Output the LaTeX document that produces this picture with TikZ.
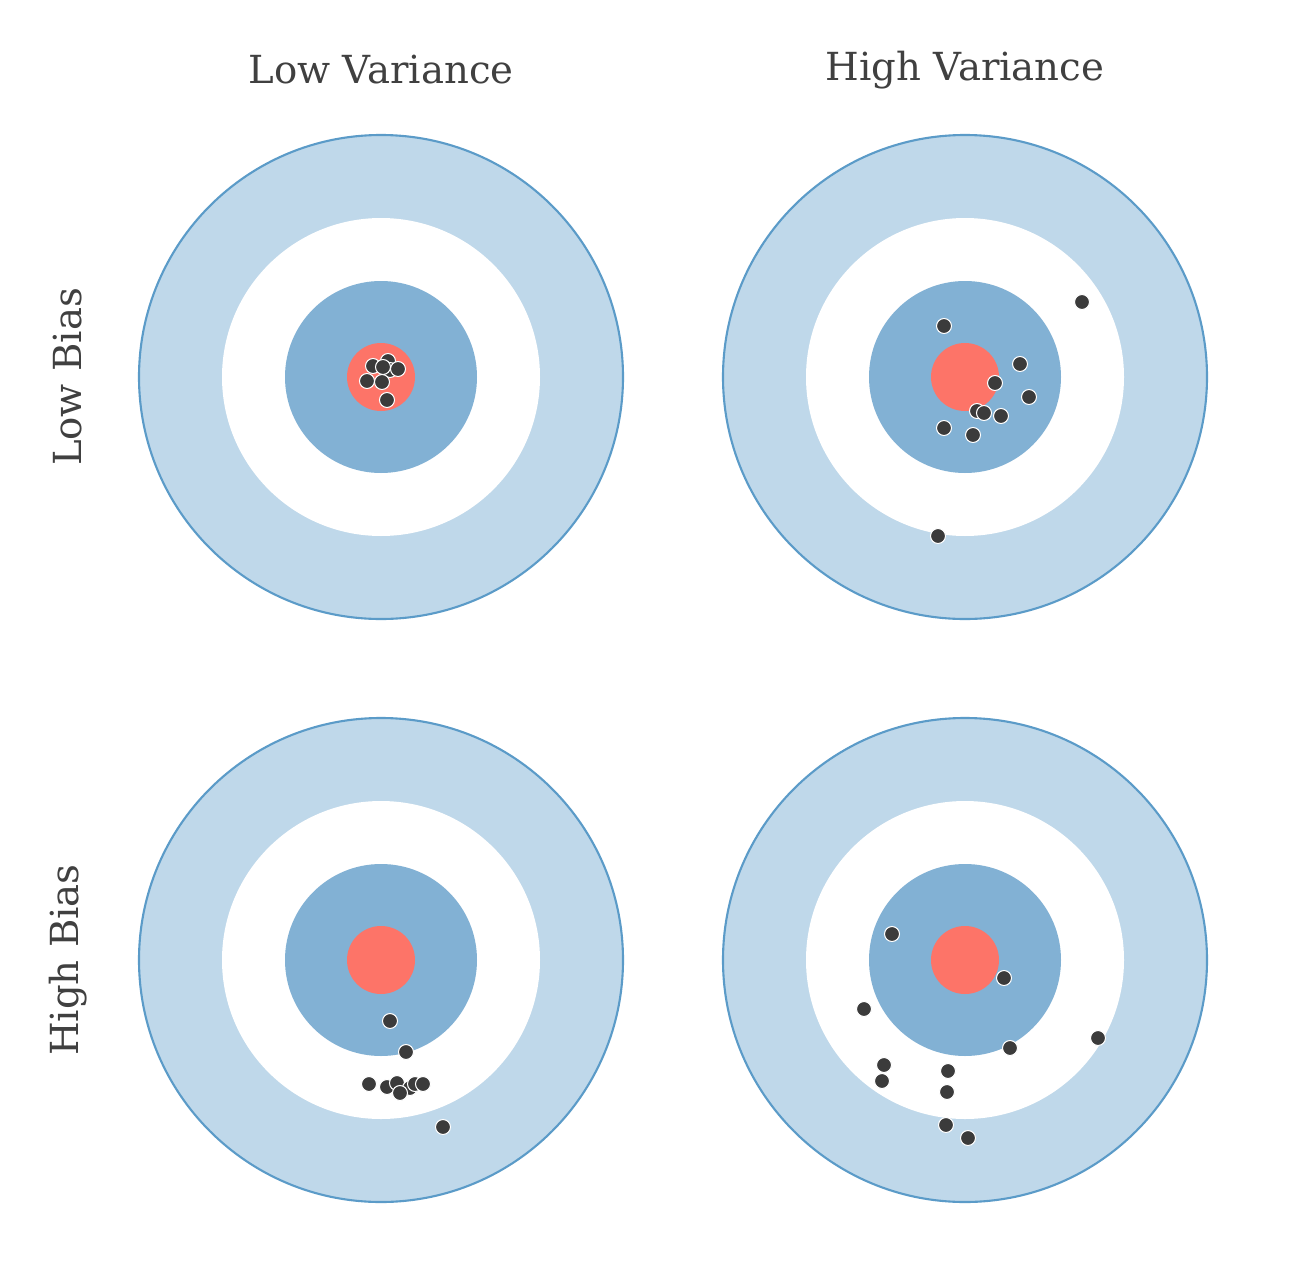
\documentclass[tikz,border=0pt]{standalone}
\usepackage{fontspec}
\setmainfont{DejaVu Serif}
\definecolor{outerblue}{HTML}{BFD8EA}
\definecolor{edgeblue}{HTML}{5B9BC8}
\definecolor{midblue}{HTML}{82B1D4}
\definecolor{bullred}{HTML}{FD7468}
\definecolor{shotgray}{HTML}{3B3B3B}
\definecolor{labelgray}{HTML}{404040}
\tikzset{
  shot/.style={circle, fill=shotgray, draw=white, line width=0.6pt, inner sep=0pt, minimum size=0.3cm},
  heading/.style={text=labelgray, font=\fontsize{22}{26}\selectfont}
}
\newcommand{\target}[2]{%
  \fill[outerblue, draw=edgeblue, line width=1.2pt] (#1,#2) circle (242);
  \fill[white] (#1,#2) circle (159);
  \fill[midblue] (#1,#2) circle (96);
  \fill[bullred] (#1,#2) circle (34);
}
\begin{document}
\begin{tikzpicture}[x=0.02cm, y=-0.02cm]
\useasboundingbox (0,0) rectangle (1292,1288);
% Zielscheiben
\target{381}{377}
\target{965}{377}
\target{381}{960}
\target{965}{960}
% Beschriftung
\node[heading] (lowvar) at (381,70) {Low Variance};
\node[heading] (highvar) at (965,70) {High Variance};
\node[heading, rotate=90] (lowbias) at (68,377) {Low Bias};
\node[heading, rotate=90] (highbias) at (68,960) {High Bias};
% Treffer
\foreach \x/\y in {388/361, 390/370, 398/369, 373/366, 383/367, 367/381, 382/382, 387/400,
  1082/302, 944/326, 1020/364, 995/383, 1029/397, 977/411, 984/413, 1001/416, 944/428, 973/435, 938/536,
  390/1021, 406/1052, 369/1084, 387/1087, 397/1083, 410/1088, 415/1084, 423/1084, 400/1093, 443/1127,
  892/934, 1004/978, 864/1009, 1010/1048, 1098/1038, 884/1065, 948/1071, 882/1081, 947/1092, 946/1125, 968/1138}
  \node[shot] at (\x,\y) {};
\end{tikzpicture}
\end{document}
